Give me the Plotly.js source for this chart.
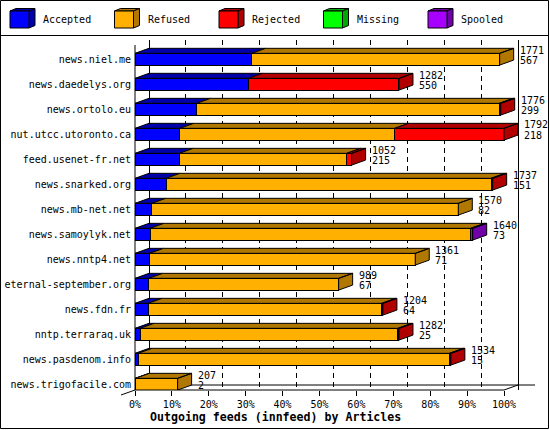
<!DOCTYPE html>
<html>
<head>
<meta charset="utf-8">
<script src="https://cdn.plot.ly/plotly-3.0.1.min.js"></script>
<style>
  html, body { margin: 0; padding: 0; background: #fff; }
  #chart { width: 550px; height: 430px; }
</style>
</head>
<body>
<div id="chart"></div>
<script>
// ── Data ──────────────────────────────────────────────
const hosts = [
  'news.niel.me', 'news.daedelys.org', 'news.ortolo.eu', 'nut.utcc.utoronto.ca',
  'feed.usenet-fr.net', 'news.snarked.org', 'news.mb-net.net', 'news.samoylyk.net',
  'news.nntp4.net', 'eternal-september.org', 'news.fdn.fr', 'nntp.terraraq.uk',
  'news.pasdenom.info', 'news.trigofacile.com'
];
const totals   = [1771, 1282, 1776, 1792, 1052, 1737, 1570, 1640, 1361, 989, 1204, 1282, 1534, 207];
const accepted = [ 567,  550,  299,  218,  215,  151,   82,   73,   71,  67,   64,   25,   15,   2];
const refused  = [1204,    0, 1470, 1043,  813, 1578, 1488, 1557, 1290, 922, 1134, 1252, 1512, 205];
const rejected = [   0,  732,    7,  531,   24,    8,    0,    0,    0,   0,    6,    5,    7,   0];
const missing  = [   0,    0,    0,    0,    0,    0,    0,    0,    0,   0,    0,    0,    0,   0];
const spooled  = [   0,    0,    0,    0,    0,    0,    0,   10,    0,   0,    0,    0,    0,   0];

const statusNames = ['Accepted', 'Refused', 'Rejected', 'Missing', 'Spooled'];
const frontColors = ['#0000ff', '#ffb000', '#ff0000', '#00ff00', '#a800ff'];
const darkColors  = ['#0000a8', '#b07800', '#b00000', '#00a800', '#7000a8'];
const pctLabels   = ['0%', '10%', '20%', '30%', '40%', '50%', '60%', '70%', '80%', '90%', '100%'];
const xTitle = 'Outgoing feeds (innfeed) by Articles';

const series = [accepted, refused, rejected, missing, spooled];

// ── Geometry (px) ─────────────────────────────────────
const W = 550, H = 430;
const M = { l: 135, r: 10, t: 40, b: 40 };
const PLOT_W = W - M.l - M.r;
const PLOT_H = H - M.t - M.b;
const FRONT_W = 369;              // 0% -> 100% on the front plane
const DEPTH_X = 14, DEPTH_Y = 5;  // 3D offset
const ROW_H = 25;
const BAR_W = 0.47;
const FONT = 'DejaVu Sans Mono, monospace';

const maxTotal = Math.max(...totals);
const upp = maxTotal / FRONT_W;            // articles per px
const xMax = PLOT_W * upp;
const DX = DEPTH_X * upp;
const DY = DEPTH_Y / ROW_H;
const yTop = -19.2 / ROW_H;
const yBottom = yTop + PLOT_H / ROW_H;
const half = BAR_W / 2;
const rowIdx = hosts.map((_, i) => i);

// paper coords helpers
const xp = v => v / xMax;
const yp = v => (yBottom - v) / (yBottom - yTop);
const pxX = px => (px - M.l) / PLOT_W;
const pxY = py => (H - M.b - py) / PLOT_H;

// ── Front faces ───────────────────────────────────────
const traces = series.map((vals, k) => ({
  type: 'bar', orientation: 'h',
  name: statusNames[k],
  x: vals.map(v => v || null), y: rowIdx,
  width: BAR_W,
  marker: { color: frontColors[k], line: { color: '#000', width: 1 } },
  hoverinfo: 'skip', showlegend: false,
}));

// ── Top and side faces ────────────────────────────────
const faceX = series.map(() => []), faceY = series.map(() => []);
rowIdx.forEach(i => {
  let a = 0, last = -1;
  const yt = i - half, yb = i + half;
  series.forEach((vals, k) => {
    const v = vals[i];
    if (!v) return;
    const b = a + v;
    faceX[k].push(a, b, b + DX, a + DX, a, null);
    faceY[k].push(yt, yt, yt - DY, yt - DY, yt, null);
    a = b; last = k;
  });
  if (last >= 0) {
    faceX[last].push(a, a + DX, a + DX, a, a, null);
    faceY[last].push(yt, yt - DY, yb - DY, yb, yt, null);
  }
});
series.forEach((_, k) => {
  if (!faceX[k].length) return;
  traces.push({
    type: 'scatter', mode: 'lines', fill: 'toself',
    x: faceX[k], y: faceY[k],
    fillcolor: darkColors[k],
    line: { color: '#000', width: 1 },
    hoverinfo: 'skip', showlegend: false,
  });
});
// keeps the back-plane axis alive
traces.push({ type: 'scatter', x: [], y: [], xaxis: 'x2', hoverinfo: 'skip', showlegend: false });

// ── Labels at bar ends ────────────────────────────────
const font = { family: FONT, size: 10, color: '#000' };
const annotations = [];
rowIdx.forEach(i => {
  const base = { x: totals[i] + DX, y: i, xref: 'x', yref: 'y', showarrow: false,
                 xanchor: 'left', yanchor: 'middle', xshift: 4, font };
  annotations.push({ ...base, text: String(totals[i]), yshift: 9.2 });
  annotations.push({ ...base, text: String(accepted[i]), yshift: -1.5 });
});
annotations.push({
  x: pxX(275), y: pxY(417), xref: 'paper', yref: 'paper', showarrow: false,
  text: xTitle, xanchor: 'center', yanchor: 'middle',
  font: { family: FONT, size: 11.6, color: '#000', weight: 'bold' },
});

// ── Frame, floor and legend shapes ────────────────────
const line = { color: '#000', width: 1 };
const shapes = [
  { type: 'rect', xref: 'paper', yref: 'paper', x0: pxX(0.5), x1: pxX(548.5),
    y0: pxY(0.5), y1: pxY(428.5), line },
  { type: 'line', xref: 'paper', yref: 'paper', x0: pxX(0.5), x1: pxX(548.5),
    y0: pxY(35.5), y1: pxY(35.5), line },
  // back floor
  { type: 'line', xref: 'paper', yref: 'paper', layer: 'below', line,
    x0: xp(DX), x1: xp(maxTotal + DX + 17 * upp), y0: yp(yBottom - DY), y1: yp(yBottom - DY) },
  // front floor with its two slanted ends
  { type: 'path', xref: 'paper', yref: 'paper', line,
    path: `M${xp(-DX)},${yp(yBottom + DY)} L${xp(0)},${yp(yBottom)} L${xp(maxTotal)},${yp(yBottom)} L${xp(maxTotal + DX)},${yp(yBottom - DY)}` },
  // front left edge
  { type: 'line', xref: 'paper', yref: 'paper', line,
    x0: xp(0), x1: xp(0), y0: yp(yTop + DY), y1: yp(yBottom) },
];

statusNames.forEach((name, k) => {
  const x0 = 10 + 104.5 * k;
  const P = (x, y) => `${pxX(x)},${pxY(y)}`;
  shapes.push({ type: 'path', xref: 'paper', yref: 'paper', fillcolor: darkColors[k], line,
    path: `M${P(x0, 11)} L${P(x0 + 19, 11)} L${P(x0 + 25, 8.5)} L${P(x0 + 6, 8.5)} Z` });
  shapes.push({ type: 'path', xref: 'paper', yref: 'paper', fillcolor: darkColors[k], line,
    path: `M${P(x0 + 19, 11)} L${P(x0 + 25, 8.5)} L${P(x0 + 25, 25.5)} L${P(x0 + 19, 28)} Z` });
  shapes.push({ type: 'rect', xref: 'paper', yref: 'paper', fillcolor: frontColors[k], line,
    x0: pxX(x0), x1: pxX(x0 + 19), y0: pxY(11), y1: pxY(28) });
  annotations.push({ x: pxX(x0 + 31), y: pxY(20), xref: 'paper', yref: 'paper',
    text: name, showarrow: false, xanchor: 'left', yanchor: 'middle', font });
});

// ── Layout ────────────────────────────────────────────
const layout = {
  width: W, height: H,
  margin: M,
  paper_bgcolor: '#fff', plot_bgcolor: 'rgba(0,0,0,0)',
  barmode: 'stack', hovermode: false,
  font,
  xaxis: {
    range: [0, xMax],
    tickmode: 'array',
    tickvals: pctLabels.map((_, k) => maxTotal * k / 10),
    ticktext: pctLabels,
    ticks: 'outside', ticklen: 5, tickcolor: '#000', tickwidth: 1,
    showgrid: false, zeroline: false, showline: false,
    tickfont: font,
  },
  // back plane grid
  xaxis2: {
    overlaying: 'x', anchor: 'y',
    range: [-DX, xMax - DX],
    tickmode: 'array', tickvals: [0, maxTotal],
    showticklabels: false, ticks: '',
    showgrid: true, gridcolor: '#000', gridwidth: 1,
    zeroline: false, showline: false,
    minor: { tick0: 0, dtick: maxTotal / 10, showgrid: true, gridcolor: '#000',
             gridwidth: 1, griddash: '5px,4px', ticks: '' },
  },
  yaxis: {
    range: [yBottom, yTop],
    tickmode: 'array', tickvals: rowIdx, ticktext: hosts,
    ticks: '', showgrid: false, zeroline: false, showline: false,
    ticklabelstandoff: 3,
    tickfont: font,
  },
  shapes, annotations,
};

Plotly.newPlot('chart', traces, layout, { displayModeBar: false, staticPlot: true });
</script>
</body>
</html>
